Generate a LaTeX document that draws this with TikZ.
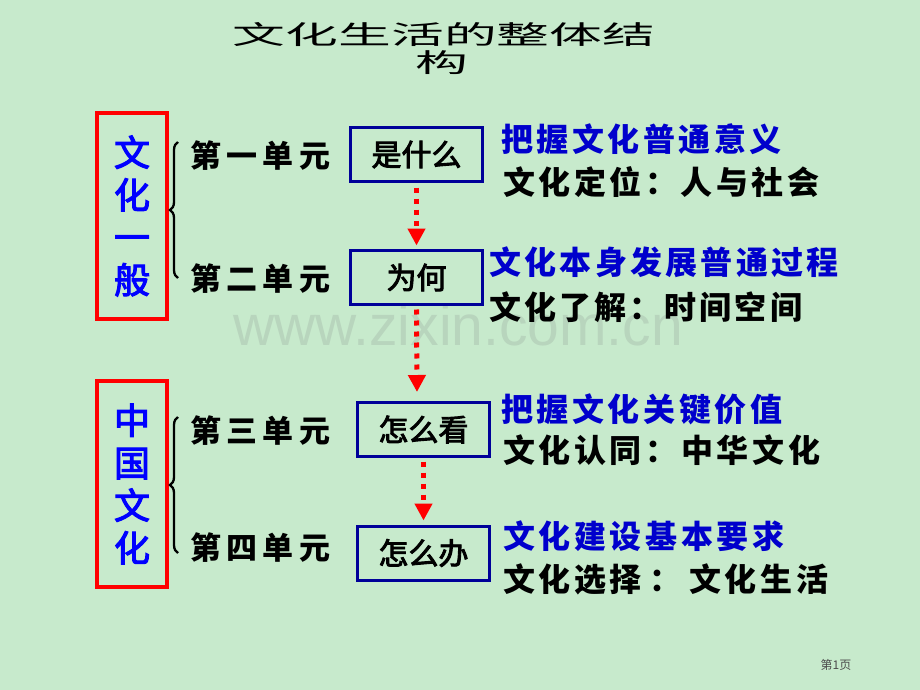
\documentclass[tikz,border=0pt]{standalone}
\usepackage{fontspec}
\usepackage{graphicx}
\setmainfont{Liberation Sans}
\newfontfamily\cjk{Noto Sans CJK SC}
\newfontfamily\cjkmed{Noto Sans CJK SC}[FakeBold=3]
\usetikzlibrary{arrows.meta,decorations.pathreplacing}
\definecolor{bg}{RGB}{199,234,204}
\definecolor{wm}{RGB}{184,213,189}
\definecolor{boxblue}{RGB}{0,0,153}
\definecolor{txtblue}{RGB}{0,0,204}
\makeatletter
\newcommand\spreadtxt[2]{\def\spr@gap{#1}\spr@loop#2\relax}
\def\spr@loop#1{\ifx#1\relax\else#1\hspace{\spr@gap}\expandafter\spr@loop\fi}
\makeatother
\begin{document}
\begin{tikzpicture}[x=1pt,y=-1pt,
  redbox/.style={draw=red, line width=3.5pt, minimum width=70pt, minimum height=206pt, inner sep=0pt,
    text=blue, font=\cjkmed\fontsize{36}{42.5}\selectfont, align=center},
  bracest/.style={draw=black, line width=2.3pt, decorate, decoration={brace, amplitude=8pt}},
  unitlbl/.style={font=\cjk\bfseries\fontsize{31}{31}\selectfont, anchor=west, inner sep=0pt},
  bbox/.style={draw=boxblue, line width=3pt, minimum width=132pt, minimum height=54pt, inner sep=0pt,
    font=\cjkmed\fontsize{30}{30}\selectfont},
  arr/.style={draw=red, line width=5pt, dash pattern=on 5pt off 6pt, -{Triangle[length=17pt,width=17pt]}},
  desc/.style={font=\cjk\bfseries\fontsize{32}{32}\selectfont, anchor=west, inner sep=0pt}]
\fill[bg] (0,0) rectangle (920,690);
\useasboundingbox (0,0) rectangle (920,690);
% watermark
\node[font=\fontsize{57}{57}\selectfont, text=wm, anchor=base west, inner sep=0pt] (wmk) at (233,345) {www.zixin.com.cn};
% title
\node[inner sep=0pt] (title) at (444,35) {\cjk\fontsize{26}{26}\selectfont\scalebox{2.03}[1]{文化生活的整体结}};
\node[inner sep=0pt] (title2) at (442,63) {\cjk\fontsize{26}{26}\selectfont\scalebox{2.03}[1]{构}};
% red boxes
\node[redbox] (g1) at (132,216) {文\\化\\一\\般};
\node[redbox] (g2) at (132,484) {中\\国\\文\\化};
% braces
\draw[bracest] (178,278) -- (178,142);
\draw[bracest] (178,553) -- (178,417);
% unit labels
\node[unitlbl] (u1) at (190,156) {\spreadtxt{5.3pt}{第一单元}};
\node[unitlbl] (u2) at (190,279) {\spreadtxt{5.3pt}{第二单元}};
\node[unitlbl] (u3) at (190,431) {\spreadtxt{5.3pt}{第三单元}};
\node[unitlbl] (u4) at (190,548) {\spreadtxt{5.3pt}{第四单元}};
% blue boxes
\node[bbox] (b1) at (416.5,154.5) {是什么};
\node[bbox] (b2) at (416.5,277.5) {为何};
\node[bbox] (b3) at (423.5,429.5) {怎么看};
\node[bbox] (b4) at (423.5,553) {怎么办};
% arrows
\coordinate (a2end) at (417,392);
\draw[arr, shorten <=4.5pt, shorten >=3.5pt] (b1.south) -- (b2.north);
\draw[arr, shorten <=3.5pt] (b2.south) -- (a2end);
\draw[arr, shorten <=3.5pt, shorten >=4pt] (b3.south) -- (b4.north);
% descriptions
\node[desc, text=txtblue] (d1a) at (501,139) {\spreadtxt{3.5pt}{把握文化普通意义}};
\node[desc] (d1b) at (503,182) {\spreadtxt{3.5pt}{文化定位：人与社会}};
\node[desc, text=txtblue] (d2a) at (489,262) {\spreadtxt{3.3pt}{文化本身发展普通过程}};
\node[desc] (d2b) at (489,307) {\spreadtxt{3.1pt}{文化了解：时间空间}};
\node[desc, text=txtblue] (d3a) at (501,409) {\spreadtxt{3.6pt}{把握文化关键价值}};
\node[desc] (d3b) at (503,450) {\spreadtxt{3.6pt}{文化认同：中华文化}};
\node[desc, text=txtblue] (d4a) at (503,536) {\spreadtxt{3.6pt}{文化建设基本要求}};
\node[desc] (d4b) at (503,579) {\spreadtxt{3.6pt}{文化选择}\hspace{4pt}\spreadtxt{3.6pt}{：}\hspace{4pt}\spreadtxt{3.6pt}{文化生活}};
% footer
\node[font=\cjk\fontsize{12}{12}\selectfont, text=black!70, inner sep=0pt] (pg) at (836,665) {第1页};
\end{tikzpicture}
\end{document}
